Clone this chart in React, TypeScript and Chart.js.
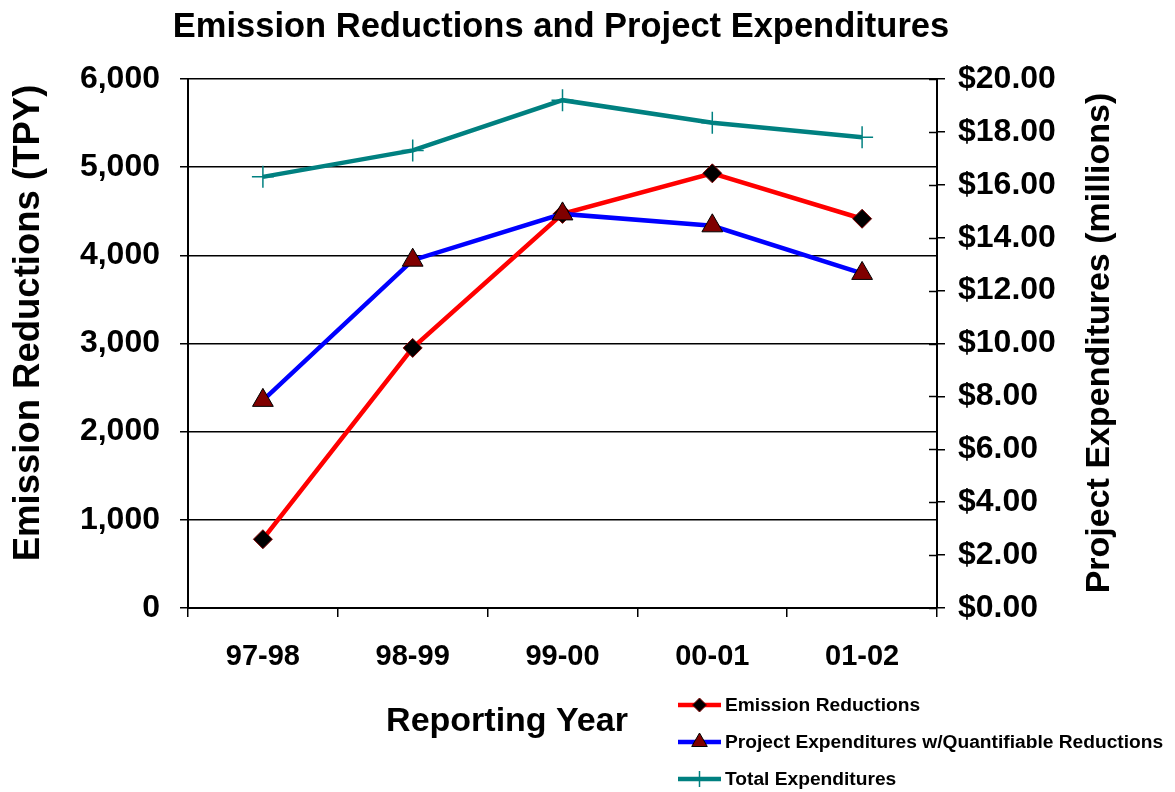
import React, { useEffect, useRef } from "react";
import { Chart, registerables } from "chart.js";

Chart.register(...registerables);

const categories = ["97-98", "98-99", "99-00", "00-01", "01-02"];
const emissionReductions = [780, 2950, 4470, 4930, 4415];
const projectExpenditures = [7.85, 13.15, 14.9, 14.45, 12.65];
const totalExpenditures = [16.3, 17.3, 19.2, 18.35, 17.8];
const seriesLabels = [
  "Emission Reductions",
  "Project Expenditures w/Quantifiable Reductions",
  "Total Expenditures",
];
const chartTitle = "Emission Reductions and Project Expenditures";
const leftAxisTitle = "Emission Reductions (TPY)";
const rightAxisTitle = "Project Expenditures (millions)";
const xAxisTitle = "Reporting Year";

const FONT = "'Liberation Sans', Arial, Helvetica, sans-serif";

const overlayPlugin = {
  id: "overlay",
  afterDraw(chart: any) {
    const ctx = chart.ctx as CanvasRenderingContext2D;
    const area = chart.chartArea;
    const y1 = chart.scales.y1;
    ctx.save();
    // inward tick marks on right axis
    ctx.strokeStyle = "#000";
    ctx.lineWidth = 1.5;
    y1.ticks.forEach((t: any) => {
      const py = Math.round(y1.getPixelForValue(t.value)) + 0.5;
      ctx.beginPath();
      ctx.moveTo(area.right - 8, py);
      ctx.lineTo(area.right, py);
      ctx.stroke();
    });

    ctx.fillStyle = "#000";
    ctx.textAlign = "center";
    ctx.textBaseline = "middle";

    // chart title
    ctx.font = `bold 34.5px ${FONT}`;
    ctx.fillText(chartTitle, 553, 19);

    // left axis title
    ctx.save();
    ctx.font = `bold 36.5px ${FONT}`;
    ctx.translate(21, 315);
    ctx.rotate(-Math.PI / 2);
    ctx.fillText(leftAxisTitle, 0, 0);
    ctx.restore();

    // right axis title
    ctx.save();
    ctx.font = `bold 34px ${FONT}`;
    ctx.translate(1092, 335);
    ctx.rotate(-Math.PI / 2);
    ctx.fillText(rightAxisTitle, 0, 0);
    ctx.restore();

    // x axis title
    ctx.font = `bold 34px ${FONT}`;
    ctx.fillText(xAxisTitle, 499, 714);

    // legend
    const ys = [697, 734, 771];
    const x0 = 670;
    const x1 = 713;
    const cx = (x0 + x1) / 2;
    chart.data.datasets.forEach((ds: any, i: number) => {
      const y = ys[i];
      ctx.strokeStyle = ds.borderColor;
      ctx.lineWidth = 4.5;
      ctx.beginPath();
      ctx.moveTo(x0, y);
      ctx.lineTo(x1, y);
      ctx.stroke();
      if (ds.pointStyle === "rectRot") {
        const r = 7;
        ctx.beginPath();
        ctx.moveTo(cx, y - r);
        ctx.lineTo(cx + r, y);
        ctx.lineTo(cx, y + r);
        ctx.lineTo(cx - r, y);
        ctx.closePath();
        ctx.fillStyle = ds.pointBackgroundColor;
        ctx.fill();
        ctx.strokeStyle = ds.pointBorderColor;
        ctx.lineWidth = 1;
        ctx.stroke();
      } else if (ds.pointStyle === "triangle") {
        const r = 9;
        const h = 1.5 * r;
        const w = Math.sqrt(3) * r;
        ctx.beginPath();
        ctx.moveTo(cx, y - r);
        ctx.lineTo(cx + w / 2, y - r + h);
        ctx.lineTo(cx - w / 2, y - r + h);
        ctx.closePath();
        ctx.fillStyle = ds.pointBackgroundColor;
        ctx.fill();
        ctx.strokeStyle = ds.pointBorderColor;
        ctx.lineWidth = 1;
        ctx.stroke();
      } else if (ds.pointStyle === "cross") {
        ctx.strokeStyle = ds.pointBorderColor;
        ctx.lineWidth = 1.5;
        ctx.beginPath();
        ctx.moveTo(cx, y - 8);
        ctx.lineTo(cx, y + 8);
        ctx.stroke();
      }
      ctx.fillStyle = "#000";
      ctx.textAlign = "left";
      ctx.font = `bold 19.2px ${FONT}`;
      ctx.fillText(ds.label, x1 + 4, y + 1);
    });
    ctx.restore();
  },
};

export default function App() {
  const canvasRef = useRef<HTMLCanvasElement | null>(null);

  useEffect(() => {
    if (!canvasRef.current) return;
    const tickFont = (size: number) => ({ family: FONT, size, weight: "bold" as const });
    const chart = new Chart(canvasRef.current, {
      type: "line",
      data: {
        labels: categories,
        datasets: [
          {
            label: seriesLabels[0],
            data: emissionReductions,
            yAxisID: "y",
            borderColor: "#FF0000",
            backgroundColor: "#FF0000",
            borderWidth: 4.5,
            pointStyle: "rectRot",
            pointRadius: 9.5,
            pointBackgroundColor: "#000000",
            pointBorderColor: "#800000",
            pointBorderWidth: 1,
            tension: 0,
            order: 1,
          },
          {
            label: seriesLabels[1],
            data: projectExpenditures,
            yAxisID: "y1",
            borderColor: "#0000FF",
            backgroundColor: "#0000FF",
            borderWidth: 4.5,
            pointStyle: "triangle",
            pointRadius: 12,
            pointBackgroundColor: "#800000",
            pointBorderColor: "#000000",
            pointBorderWidth: 1,
            tension: 0,
            order: 0,
          },
          {
            label: seriesLabels[2],
            data: totalExpenditures,
            yAxisID: "y1",
            borderColor: "#008080",
            backgroundColor: "#008080",
            borderWidth: 4.5,
            pointStyle: "cross",
            pointRadius: 11,
            pointBorderColor: "#008080",
            pointBorderWidth: 1.5,
            tension: 0,
            order: 2,
          },
        ],
      },
      options: {
        responsive: true,
        maintainAspectRatio: false,
        animation: false,
        layout: { padding: { top: 71, left: 0, right: 0, bottom: 0 } },
        plugins: {
          legend: { display: false },
          tooltip: { enabled: false },
          title: { display: false, text: chartTitle },
        },
        scales: {
          x: {
            type: "category",
            offset: true,
            grid: {
              offset: true,
              drawOnChartArea: false,
              drawTicks: true,
              tickLength: 9,
              color: "#000",
              lineWidth: 1.5,
            },
            border: { color: "#000", width: 2 },
            ticks: { color: "#000", font: tickFont(29), padding: 23, maxRotation: 0, autoSkip: false },
            afterFit: (s: any) => {
              s.height = 184;
            },
          },
          y: {
            type: "linear",
            position: "left",
            min: 0,
            max: 6000,
            ticks: {
              stepSize: 1000,
              color: "#000",
              font: tickFont(32),
              padding: 20,
              callback: (v: any) => Number(v).toLocaleString("en-US"),
            },
            grid: { color: "#000", lineWidth: 1.5, tickLength: 8 },
            border: { color: "#000", width: 2 },
            afterFit: (s: any) => {
              s.width = 180;
            },
          },
          y1: {
            type: "linear",
            position: "right",
            min: 0,
            max: 20,
            ticks: {
              stepSize: 2,
              color: "#000",
              font: tickFont(32),
              padding: 13,
              callback: (v: any) => "$" + Number(v).toFixed(2),
            },
            grid: { drawOnChartArea: false, color: "#000", lineWidth: 1.5, tickLength: 8 },
            border: { color: "#000", width: 2 },
            afterFit: (s: any) => {
              s.width = 230;
            },
          },
        },
      },
      plugins: [overlayPlugin],
    });
    return () => chart.destroy();
  }, []);

  return (
    <div style={{ position: "absolute", left: 8, top: 8, width: 1159, height: 784 }}>
      <canvas ref={canvasRef} />
    </div>
  );
}
